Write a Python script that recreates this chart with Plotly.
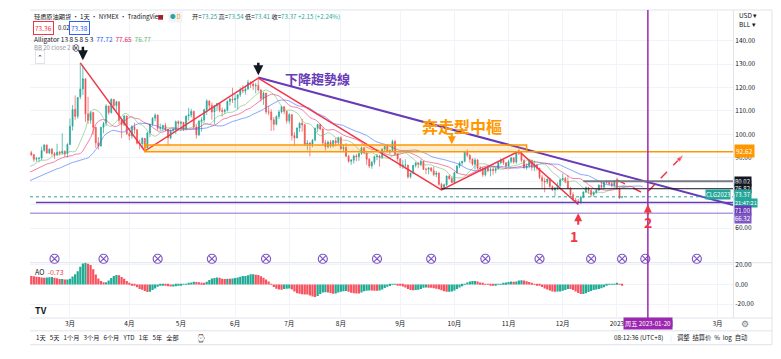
import numpy as np
import pandas as pd
import plotly.graph_objects as go

# ---------------- data (daily OHLC, WTI crude) ----------------
opens = [
    # 2021-12 (warm-up, off-screen)
    70.5, 68.3, 71.1, 72.8, 73.7, 75.6, 75.9, 76.5, 76.9,
    # 2022-01
    75.7, 76.0, 77.0, 77.6, 79.5, 78.6, 78.1, 81.3, 82.6, 82.0, 83.9, 85.4, 86.9, 86.9, 85.0, 83.4, 85.5, 87.3, 86.7, 86.9,
    # 2022-02
    88.2, 88.1, 88.3, 90.3, 92.2, 91.4, 89.4, 89.7, 89.9, 93.2, 95.4, 92.1, 93.7, 91.8, 91.2, 92.4, 92.1, 92.8, 92.0,
    # 2022-03
    95.7, 103.5, 110.7, 107.7, 116.0, 119.4, 123.7, 108.7, 106.0, 109.3, 103.0, 96.4, 95.0, 103.0, 104.7, 112.1, 109.3, 114.9, 112.3, 113.9, 106.0, 104.2, 107.8,
    # 2022-04
    100.3, 99.3, 103.3, 102.0, 96.2, 96.0, 98.3, 94.3, 100.6, 104.3, 106.9, 108.2, 102.6, 102.8, 103.8, 102.1, 98.5, 101.7, 102.0, 105.4,
    # 2022-05
    104.7, 105.2, 102.4, 107.8, 108.3, 109.8, 103.1, 99.8, 105.7, 106.1, 110.5, 114.2, 112.4, 109.6, 112.2, 113.2, 110.3, 109.8, 110.3, 114.1, 115.1,
    # 2022-06
    114.7, 115.3, 116.9, 118.9, 118.5, 119.4, 122.1, 121.5, 120.7, 120.9, 118.9, 115.3, 117.6, 109.6, 109.5, 106.2, 104.3, 107.6, 109.6, 111.8, 109.8,
    # 2022-07
    105.8, 108.4, 99.5, 98.5, 102.7, 104.8, 104.1, 95.8, 96.3, 95.8, 97.6, 102.6, 104.2, 102.3, 96.4, 94.7, 96.7, 95.0, 97.3, 96.4,
    # 2022-08
    98.6, 93.9, 94.4, 90.7, 88.5, 89.0, 90.8, 90.5, 91.9, 94.3, 92.1, 89.4, 86.5, 88.1, 90.5, 90.8, 90.2, 93.7, 94.9, 92.5, 93.1, 97.0, 91.6,
    # 2022-09
    89.6, 86.6, 86.9, 86.9, 81.9, 83.5, 86.8, 87.8, 87.3, 88.5, 85.1, 85.1, 85.7, 84.5, 82.9, 83.5, 78.7, 76.7, 78.5, 82.2, 81.2,
    # 2022-10
    79.5, 83.6, 86.5, 87.8, 88.5, 92.6, 91.1, 89.4, 87.3, 89.1, 85.6, 85.5, 82.8, 85.6, 84.5, 85.1, 84.6, 85.3, 87.9, 89.1, 87.9,
    # 2022-11
    86.5, 88.4, 90.0, 88.2, 92.6, 91.8, 88.9, 85.8, 86.5, 89.0, 85.9, 86.9, 85.6, 81.6, 80.1, 79.7, 81.0, 77.9, 76.3, 77.2, 78.2,
    # 2022-12
    80.6, 81.2, 80.0, 76.9, 74.3, 72.0, 71.5, 71.0, 73.2, 75.4, 77.3, 76.1, 74.3, 75.2, 76.2, 78.3, 77.5, 79.6, 79.5, 79.0, 78.4,
    # 2023-01
    80.6, 76.9, 73.25,
]
highs = [
    70.9, 71.4, 72.9, 73.9, 75.9, 76.9, 77.0, 77.2, 77.0,
    76.5, 77.6, 78.2, 80.2, 80.0, 79.0, 81.4, 82.9, 83.1, 84.0, 86.3, 87.9, 87.9, 87.0, 85.7, 85.8, 88.0, 88.5, 88.8, 88.4,
    88.7, 88.8, 90.4, 93.2, 93.0, 91.5, 90.4, 90.2, 94.7, 95.8, 95.8, 94.0, 94.2, 92.5, 96.0, 93.0, 100.5, 93.1, 96.2,
    106.8, 112.5, 116.6, 116.0, 130.5, 129.4, 123.8, 116.0, 110.0, 109.6, 103.2, 98.8, 103.2, 105.4, 112.9, 112.3, 115.4, 115.1, 114.3, 114.0, 107.1, 108.4, 108.0,
    101.0, 104.0, 105.0, 102.2, 97.7, 98.8, 98.4, 101.2, 104.5, 107.4, 109.0, 108.5, 104.6, 104.2, 104.9, 102.3, 102.1, 103.0, 105.9, 106.0,
    105.8, 105.3, 108.0, 111.4, 110.9, 110.1, 104.2, 106.0, 107.3, 111.0, 115.0, 114.5, 113.6, 112.5, 113.4, 113.5, 111.4, 111.0, 114.4, 115.5, 119.9,
    117.2, 117.1, 120.0, 120.9, 120.5, 123.3, 122.7, 122.5, 122.0, 123.7, 119.3, 118.2, 117.8, 112.2, 110.7, 107.4, 108.2, 110.5, 112.3, 112.0, 110.1,
    109.1, 108.7, 101.0, 103.0, 105.1, 106.6, 104.4, 97.6, 96.7, 98.0, 102.9, 104.5, 104.5, 102.5, 97.6, 97.4, 97.6, 97.6, 98.6, 99.0,
    99.2, 95.8, 96.3, 91.3, 89.5, 91.4, 91.6, 92.3, 94.8, 94.5, 92.3, 89.9, 88.7, 91.0, 91.8, 91.3, 94.0, 95.3, 95.6, 93.5, 97.7, 97.6, 91.9,
    89.7, 89.0, 89.4, 87.0, 83.7, 87.0, 88.2, 88.1, 89.3, 88.5, 85.8, 86.0, 86.0, 86.3, 84.4, 83.8, 79.3, 79.0, 82.5, 82.8, 81.9,
    84.0, 86.8, 88.4, 88.7, 93.0, 93.6, 91.5, 89.8, 89.9, 89.5, 86.6, 86.0, 86.1, 86.6, 85.9, 85.8, 86.0, 88.4, 89.8, 89.2, 88.1,
    89.1, 90.3, 90.2, 92.9, 93.7, 92.9, 89.4, 87.6, 89.6, 89.1, 88.8, 87.4, 85.6, 82.7, 81.5, 81.1, 81.5, 78.2, 77.6, 79.5, 81.0,
    83.3, 81.9, 82.7, 77.6, 75.3, 73.0, 72.5, 73.8, 75.7, 77.8, 77.6, 76.6, 75.8, 76.7, 78.7, 79.9, 79.9, 80.6, 80.5, 79.7, 80.5,
    81.5, 77.4, 73.54,
]
lows = [
    66.1, 68.0, 70.6, 72.3, 72.6, 75.3, 75.2, 75.7, 74.9,
    74.3, 75.4, 76.3, 76.7, 78.1, 76.7, 77.7, 80.8, 81.7, 81.6, 83.4, 84.1, 85.6, 84.2, 81.6, 83.0, 84.8, 86.1, 85.9, 86.4,
    86.6, 87.5, 87.8, 89.5, 90.8, 88.3, 88.3, 88.1, 89.0, 92.6, 91.8, 91.6, 90.9, 89.6, 90.8, 91.0, 91.5, 90.4, 90.1,
    95.5, 101.6, 106.2, 106.7, 115.0, 116.8, 105.3, 104.5, 104.5, 99.8, 94.2, 93.5, 94.9, 100.5, 103.5, 108.4, 108.8, 110.5, 110.0, 104.5, 98.4, 103.5, 99.8,
    97.5, 98.2, 100.2, 95.7, 93.6, 94.5, 92.9, 94.0, 98.9, 103.5, 105.6, 101.8, 101.5, 101.4, 101.3, 95.3, 97.9, 100.4, 100.2, 103.2,
    101.6, 101.4, 102.0, 105.9, 107.2, 102.6, 98.2, 99.3, 101.2, 105.1, 108.3, 110.6, 106.3, 104.5, 109.9, 109.4, 107.6, 108.7, 109.8, 112.3, 113.4,
    111.2, 110.5, 116.0, 117.6, 117.0, 118.9, 119.7, 118.9, 117.5, 118.3, 114.0, 112.6, 108.6, 108.2, 101.5, 101.6, 103.9, 106.5, 108.9, 108.6, 104.6,
    104.6, 97.4, 95.1, 98.3, 101.0, 101.2, 95.1, 93.2, 90.6, 94.5, 97.0, 101.1, 101.8, 95.4, 93.2, 94.0, 94.2, 94.4, 94.9, 95.6,
    93.3, 92.4, 90.4, 87.9, 87.0, 87.5, 88.5, 88.7, 91.3, 91.5, 87.0, 85.7, 85.3, 87.0, 89.0, 86.3, 89.6, 92.6, 92.3, 91.5, 92.5, 91.3, 88.4,
    85.6, 85.3, 85.3, 81.2, 81.2, 83.0, 85.9, 85.6, 86.4, 84.8, 83.0, 83.0, 83.8, 82.1, 81.7, 78.1, 76.3, 76.4, 77.9, 80.6, 79.2,
    79.3, 83.4, 85.6, 86.8, 88.1, 90.4, 87.8, 86.6, 85.0, 85.0, 83.9, 81.9, 82.1, 83.8, 82.1, 82.7, 83.4, 84.9, 87.3, 86.9, 85.4,
    86.2, 87.6, 87.5, 87.4, 91.2, 88.1, 85.3, 84.9, 85.5, 84.6, 84.3, 84.6, 80.9, 77.2, 75.3, 78.8, 77.0, 75.9, 73.6, 76.2, 77.3,
    80.3, 79.1, 76.9, 73.8, 71.8, 70.9, 70.1, 70.3, 72.8, 75.0, 74.8, 73.4, 73.4, 74.6, 75.9, 77.0, 77.0, 78.9, 78.3, 77.4, 77.5,
    76.5, 72.7, 72.74,
]
closes = [
    68.2, 71.1, 72.8, 73.8, 75.6, 76.0, 76.6, 77.0, 75.2,
    76.1, 77.0, 77.9, 79.5, 78.9, 78.2, 81.2, 82.6, 82.1, 83.8, 85.4, 87.0, 86.9, 85.1, 83.3, 85.6, 87.4, 86.6, 86.8, 88.2,
    88.2, 88.3, 90.3, 92.3, 91.3, 89.4, 89.7, 89.9, 93.1, 95.5, 92.1, 93.7, 91.8, 91.1, 92.4, 92.1, 92.8, 91.6, 95.7,
    103.4, 110.6, 107.7, 115.7, 119.4, 123.7, 108.7, 106.0, 109.3, 103.0, 96.4, 95.0, 103.0, 104.7, 112.1, 109.3, 114.9, 112.3, 113.9, 106.0, 104.2, 107.8, 100.3,
    99.3, 103.3, 102.0, 96.2, 96.0, 98.3, 94.3, 100.6, 104.3, 106.9, 108.2, 102.6, 102.8, 103.8, 102.1, 98.5, 101.7, 102.0, 105.4, 104.7,
    105.2, 102.4, 107.8, 108.3, 109.8, 103.1, 99.8, 105.7, 106.1, 110.5, 114.2, 112.4, 109.6, 112.2, 113.2, 110.3, 109.8, 110.3, 114.1, 115.1, 114.7,
    115.3, 116.9, 118.9, 118.5, 119.4, 122.1, 121.5, 120.7, 120.9, 118.9, 115.3, 117.6, 109.6, 109.5, 106.2, 104.3, 107.6, 109.6, 111.8, 109.8, 105.8,
    108.4, 99.5, 98.5, 102.7, 104.8, 104.1, 95.8, 96.3, 95.8, 97.6, 102.6, 104.2, 102.3, 96.4, 94.7, 96.7, 95.0, 97.3, 96.4, 98.6,
    93.9, 94.4, 90.7, 88.5, 89.0, 90.8, 90.5, 91.9, 94.3, 92.1, 89.4, 86.5, 88.1, 90.5, 90.8, 90.2, 93.7, 94.9, 92.5, 93.1, 97.0, 91.6, 89.6,
    86.6, 86.9, 86.9, 81.9, 83.5, 86.8, 87.8, 87.3, 88.5, 85.1, 85.1, 85.7, 84.5, 82.9, 83.5, 78.7, 76.7, 78.5, 82.2, 81.2, 79.5,
    83.6, 86.5, 87.8, 88.5, 92.6, 91.1, 89.4, 87.3, 89.1, 85.6, 85.5, 82.8, 85.6, 84.5, 85.1, 84.6, 85.3, 87.9, 89.1, 87.9, 86.5,
    88.4, 90.0, 88.2, 92.6, 91.8, 88.9, 85.8, 86.5, 89.0, 85.9, 86.9, 85.6, 81.6, 80.1, 79.7, 81.0, 77.9, 76.3, 77.2, 78.2, 80.6,
    81.2, 80.0, 76.9, 74.3, 72.0, 71.5, 71.0, 73.2, 75.4, 77.3, 76.1, 74.3, 75.2, 76.2, 78.3, 77.5, 79.6, 79.5, 79.0, 78.4, 80.3,
    76.9, 72.8, 73.37,
]

holidays = ["2021-12-24", "2022-01-17", "2022-02-21", "2022-04-15", "2022-05-30", "2022-06-20",
            "2022-07-04", "2022-09-05", "2022-11-24", "2022-12-26", "2023-01-02", "2023-01-16", "2023-02-20"]

# user drawings (anchor dates / price levels)
zigzag_dates = ["2022-03-07", "2022-04-11", "2022-06-14", "2022-09-26", "2022-11-07", "2022-12-09"]
zigzag_prices = [130.5, 92.9, 124.0, 76.3, 92.8, 70.1]
trend_dates = ["2022-06-14", "2023-01-20"]
trend_prices = [124.3, 79.6]
projection_dates = ["2023-01-03", "2023-01-19", "2023-02-09"]
projection_prices = [80.6, 74.5, 91.5]
zone_dates = ["2022-04-11", "2022-11-10"]
zone_prices = [92.62, 95.5]
level_orange = 92.62
level_gray = 80.02
level_gray_date = "2022-12-13"
level_black = 76.82
level_black_date = "2022-09-26"
last_price = 73.37
level_purple = 71.00
level_lavender = 66.32
vline_date = "2023-01-20"
event_dates = ["2022-02-18", "2022-03-18", "2022-04-19", "2022-05-18", "2022-06-17", "2022-07-21",
               "2022-08-19", "2022-09-20", "2022-10-19", "2022-11-17", "2022-12-16", "2023-01-05",
               "2023-01-19", "2023-02-16"]

# ---------------- helpers ----------------
all_days = [d for d in pd.bdate_range("2021-12-20", "2023-03-31") if d.strftime("%Y-%m-%d") not in holidays]
day_str = [d.strftime("%Y-%m-%d") for d in all_days]
def idx(s):
    return day_str.index(s)

N = len(closes)
xi = np.arange(N)
O, H, L, C = map(np.array, (opens, highs, lows, closes))
hl2 = (H + L) / 2

def smma(src, n):
    out = np.full(len(src), np.nan)
    out[n - 1] = src[:n].mean()
    for i in range(n, len(src)):
        out[i] = (out[i - 1] * (n - 1) + src[i]) / n
    return out

jaw, teeth, lips = smma(hl2, 13), smma(hl2, 8), smma(hl2, 5)
s = pd.Series(hl2)
ao = (s.rolling(5).mean() - s.rolling(34).mean()).values
ao_col = ["#22ab94" if (i > 0 and ao[i] >= ao[i - 1]) else "#f7525f" for i in range(N)]

X0, X1 = 32.5, 305.0
W, Hh = 781, 359
ML, MR, MT, MB = 30, 48, 6, 41
PW, PH = W - ML - MR, Hh - MT - MB
def pxx(px):  # pixel -> paper x
    return (px - ML) / PW
def pxy(py):  # pixel -> paper y
    return (Hh - MB - py) / PH
def pprice(py):  # pixel -> price (price pane)
    return 140 - (py - 37) / 2.375

split = pxy(262)

# month ticks
tickvals, ticktext = [], []
for i, d in enumerate(all_days):
    if i > 0 and d.month != all_days[i - 1].month and X0 <= i <= X1:
        tickvals.append(i)
        ticktext.append("2023" if (d.month == 1) else f"{d.month}月")

fig = go.Figure()

# Alligator
fig.add_trace(go.Scatter(x=xi + 8, y=jaw, mode="lines", line=dict(color="#2962ff", width=1), opacity=0.55, hoverinfo="skip"))
fig.add_trace(go.Scatter(x=xi + 5, y=teeth, mode="lines", line=dict(color="#e91e63", width=1), opacity=0.55, hoverinfo="skip"))
fig.add_trace(go.Scatter(x=xi + 3, y=lips, mode="lines", line=dict(color="#66bb6a", width=1), opacity=0.55, hoverinfo="skip"))

fig.add_trace(go.Candlestick(
    x=xi, open=O, high=H, low=L, close=C,
    increasing=dict(line=dict(color="#26a69a", width=0.7), fillcolor="#26a69a"),
    decreasing=dict(line=dict(color="#ef5350", width=0.7), fillcolor="#ef5350"),
    whiskerwidth=0, hoverinfo="skip", xaxis="x", yaxis="y"))

# AO
fig.add_trace(go.Bar(x=xi, y=ao, marker=dict(color=ao_col, line=dict(width=0)), xaxis="x", yaxis="y2", hoverinfo="skip"))

# drawings: trend line
tx = [idx(d) for d in trend_dates]
slope = (trend_prices[1] - trend_prices[0]) / (tx[1] - tx[0])
fig.add_trace(go.Scatter(x=[tx[0], X1], y=[trend_prices[0], trend_prices[0] + slope * (X1 - tx[0])],
                         mode="lines", line=dict(color="#673ab7", width=2), hoverinfo="skip"))
# zigzag
fig.add_trace(go.Scatter(x=[idx(d) for d in zigzag_dates], y=zigzag_prices, mode="lines",
                         line=dict(color="#f23645", width=1.5), hoverinfo="skip"))
# projection
fig.add_trace(go.Scatter(x=[idx(d) for d in projection_dates], y=projection_prices, mode="lines+markers",
                         line=dict(color="#f23645", width=1.5, dash="dash"),
                         marker=dict(symbol=["circle", "circle", "arrow"], size=[0, 0, 9], angleref="previous",
                                     color="#f23645"), hoverinfo="skip"))
# event icons
fig.add_trace(go.Scatter(x=[idx(d) for d in event_dates], y=[pprice(258)] * len(event_dates), mode="markers",
                         marker=dict(symbol="circle-x", size=9, color="white", line=dict(color="#7e57c2", width=1.2)),
                         hoverinfo="skip", cliponaxis=False))

shapes = []
def hline(y, x0, color, width, dash="solid"):
    shapes.append(dict(type="line", xref="x", yref="y", x0=x0, x1=X1, y0=y, y1=y,
                       line=dict(color=color, width=width, dash=dash)))

shapes.append(dict(type="rect", xref="x", yref="y", x0=idx(zone_dates[0]), x1=idx(zone_dates[1]),
                   y0=zone_prices[0], y1=zone_prices[1], fillcolor="rgba(255,152,0,0.18)",
                   line=dict(color="#ff9800", width=1.5)))
hline(level_orange, idx(zone_dates[1]), "#ff9800", 1.5)
hline(level_gray, idx(level_gray_date), "#787b86", 2)
hline(level_black, idx(level_black_date), "#131722", 1)
hline(last_price, X0, "#26a69a", 1, "dot")
hline(level_purple, X0 + 2.3, "#673ab7", 1.5)
hline(level_lavender, X0, "#b39ddb", 1.5)
shapes.append(dict(type="line", xref="x", yref="paper", x0=idx(vline_date), x1=idx(vline_date), y0=0, y1=1,
                   line=dict(color="#9c27b0", width=1.5)))
# frame lines
for yy in [1, split, 0, pxy(331), pxy(345)]:
    shapes.append(dict(type="line", xref="paper", yref="paper", x0=0, x1=pxx(772), y0=yy, y1=yy,
                       line=dict(color="#e0e3eb", width=1), layer="below"))
shapes.append(dict(type="line", xref="paper", yref="paper", x0=pxx(772), x1=pxx(772), y0=pxy(345), y1=1,
                   line=dict(color="#e0e3eb", width=1)))
shapes.append(dict(type="rect", xref="paper", yref="paper", x0=pxx(158), x1=pxx(163), y0=pxy(16), y1=pxy(11),
                   fillcolor="#f23645", line=dict(width=0)))

ann = []
def txt(px, py, text, size=7, color="#131722", anchor="left", **kw):
    d = dict(xref="paper", yref="paper", x=pxx(px), y=pxy(py), text=text, showarrow=False,
             xanchor=anchor, yanchor="middle", font=dict(size=size, color=color))
    d.update(kw)
    ann.append(d)

# header
txt(32, 13, "轻质原油期货 · 1天 · NYMEX · TradingView", size=6.2)
txt(168, 13, "<span style='color:#26a69a'>●</span> <span style='color:#ff9800'>D</span>", size=5.5,
    bgcolor="#f0f3fa", borderpad=1)
txt(190, 13, "开=<span style='color:#26a69a'>73.25</span> 高=<span style='color:#26a69a'>73.54</span> "
             "低=<span style='color:#26a69a'>73.41</span> 收=<span style='color:#26a69a'>73.37 +2.15 (+2.24%)</span>",
    size=6.2)
txt(33, 24, "73.36", size=6.5, color="#f23645", bordercolor="#f23645", borderwidth=1, borderpad=1)
txt(56, 24, "0.02", size=6, color="#131722")
txt(69, 24, "73.38", size=6.5, color="#2962ff", bordercolor="#2962ff", borderwidth=1, borderpad=1)
txt(32, 35, "Alligator 13 8 5 8 5 3  <span style='color:#2962ff'>77.72</span>  "
            "<span style='color:#e91e63'>77.65</span>  <span style='color:#66bb6a'>76.77</span>", size=6.5)
txt(32, 44, "BB 20 close 2 0", size=6, color="#9598a1")
txt(70, 44, "⊗", size=8, color="#131722")
txt(35, 54, "⌃", size=7, color="#131722", bordercolor="#e0e3eb", borderwidth=1, borderpad=1)
txt(737, 11, "USD ▾", size=6.5)
txt(737, 20, "BLL ▾", size=6.5)
# pane labels
txt(33, 271, "AO  <span style='color:#f23645'>-0.73</span>", size=7)
txt(33, 310, "<b>TV</b>", size=9)
# bottom toolbar
txt(34, 338, "1天   5天   1个月   3个月   6个月   YTD   1年   5年   全部", size=6.2)
txt(194, 338, "⌚", size=8, color="#787b86")
txt(612, 338, "08:12:36 (UTC+8)", size=6.3)
txt(668, 338, "|", size=7, color="#e0e3eb")
txt(675, 338, "调整  结算价  %  log  自动", size=6.3)
txt(745, 324, "⚙", size=9, color="#787b86", anchor="center")
# time label of vertical line
ann.append(dict(xref="x", yref="paper", x=idx(vline_date), y=pxy(324), text="周五 2023-01-20", showarrow=False,
                xanchor="center", yanchor="middle", font=dict(size=6.2, color="white"), bgcolor="#9c27b0", borderpad=1))

# right price labels
def plabel(price, text, bg, yshift=0, size=6.5, pad=1):
    ann.append(dict(xref="paper", yref="y", x=1, y=price, text=text, showarrow=False, xanchor="left",
                    yanchor="middle", font=dict(size=size, color="white"), bgcolor=bg, borderpad=pad,
                    xshift=1, yshift=yshift))
plabel(level_orange, "92.62", "#ff9800", yshift=1)
plabel(level_gray, "80.02", "#131722", size=6, pad=0)
plabel(level_black, "76.82", "#131722", size=6, pad=0)
plabel(last_price, "73.37", "#26a69a", yshift=2, size=6, pad=0)
plabel(last_price, "21:47:21", "#26a69a", yshift=-6, size=5.6, pad=0)
plabel(level_purple, "71.00", "#673ab7", yshift=-8, size=6, pad=0)
plabel(level_lavender, "66.32", "#7e57c2", yshift=-5, size=6, pad=0)
ann.append(dict(xref="paper", yref="y", x=1, y=last_price, text="CLG2023", showarrow=False, xanchor="right",
                yanchor="middle", font=dict(size=6, color="white"), bgcolor="#26a69a", borderpad=0, xshift=-2,
                yshift=2))

# drawing texts & arrows
ann.append(dict(xref="x", yref="y", x=idx("2022-10-06"), y=pprice(123), text="<b>奔走型中樞</b>", showarrow=False,
                font=dict(size=16, color="#ff9800", family="Noto Sans CJK TC")))
ann.append(dict(xref="x", yref="y", x=idx("2022-07-19"), y=pprice(75.5), text="<b>下降趨勢線</b>", showarrow=False,
                font=dict(size=13, color="#673ab7", family="Noto Sans CJK TC")))
def arrow(xv, py, ay, color, width=2.5):
    ann.append(dict(xref="x", yref="y", x=xv, y=pprice(py), ax=0, ay=ay, text="", showarrow=True,
                    arrowhead=2, arrowsize=0.8, arrowwidth=width, arrowcolor=color))
arrow(idx("2022-03-08"), 57, -15, "#131722")
arrow(idx("2022-06-14"), 72, -14, "#131722")
arrow(idx("2022-09-30"), 142, -12, "#ff9800", 2)
arrow(idx("2022-12-09"), 212, 13, "#f23645", 2)
arrow(idx(vline_date), 203, 12, "#f23645", 2)
ann.append(dict(xref="x", yref="y", x=idx("2022-12-09"), y=pprice(235), text="<b>1</b>", showarrow=False,
                xshift=-4, font=dict(size=14, color="#f23645")))
ann.append(dict(xref="x", yref="y", x=idx(vline_date), y=pprice(221), text="<b>2</b>", showarrow=False,
                font=dict(size=14, color="#f23645")))

fig.update_layout(
    width=W, height=Hh, margin=dict(l=ML, r=MR, t=MT, b=MB),
    paper_bgcolor="white", plot_bgcolor="white", showlegend=False,
    font=dict(family="Noto Sans CJK SC, Roboto, sans-serif", size=7, color="#131722"),
    boxgap=0.45, bargap=0.15,
    xaxis=dict(domain=[0, 1], anchor="y2", range=[X0, X1], tickvals=tickvals, ticktext=ticktext,
               showgrid=True, gridcolor="#f0f3fa", zeroline=False, showline=False, ticks="",
               tickfont=dict(size=6.5), rangeslider=dict(visible=False)),
    yaxis=dict(domain=[split, 1], anchor="x", side="right", range=[pprice(262), pprice(6)],
               tickvals=list(range(60, 150, 10)),
               ticktext=["60.00", "", "80.00", "90.00", "100.00", "110.00", "120.00", "130.00", "140.00"],
               showgrid=True, gridcolor="#f0f3fa", zeroline=False, showline=True, linecolor="#e0e3eb",
               ticks="", tickfont=dict(size=6.5)),
    yaxis2=dict(domain=[0, split], anchor="x", side="right", range=[-34, 22],
                tickvals=[20, 0, -20], ticktext=["20.00", "0.00", "-20.00"],
                showgrid=True, gridcolor="#f0f3fa", zeroline=False, showline=True, linecolor="#e0e3eb",
                ticks="", tickfont=dict(size=6.5)),
    shapes=shapes, annotations=ann,
)

fig.write_html("out.html", config={"displayModeBar": False},
               post_script="document.body.style.margin='0px';document.body.style.overflow='hidden';")
